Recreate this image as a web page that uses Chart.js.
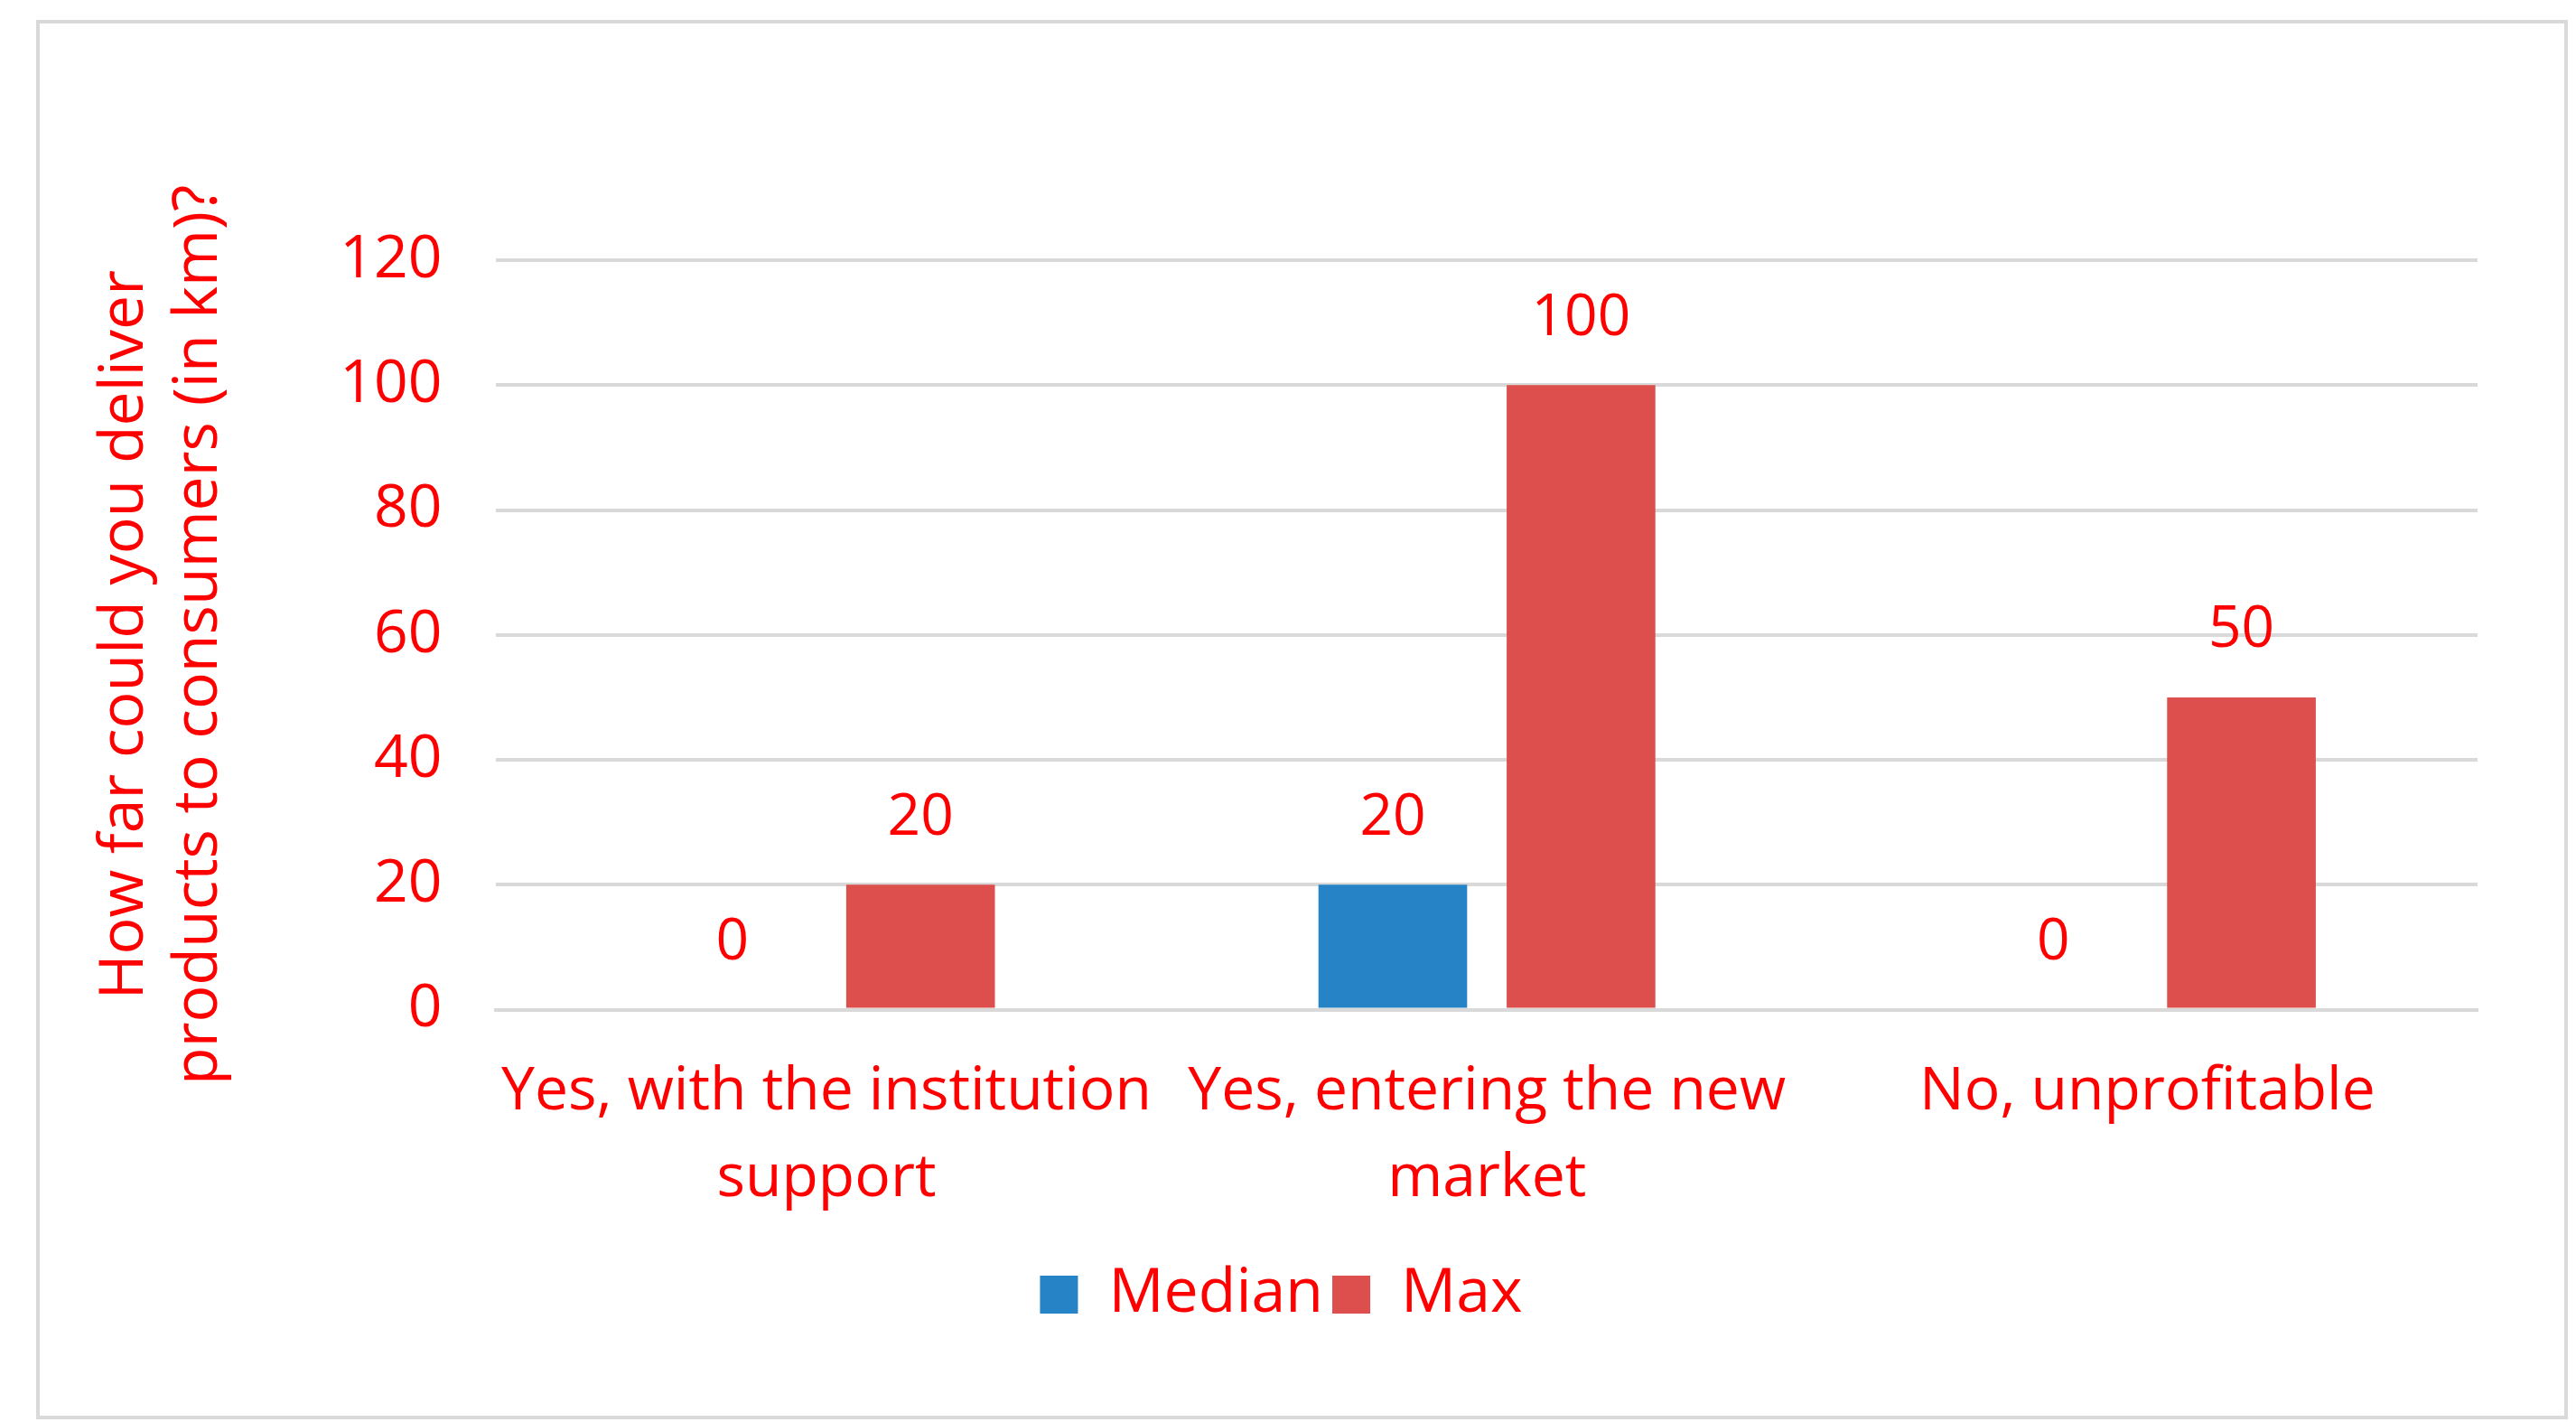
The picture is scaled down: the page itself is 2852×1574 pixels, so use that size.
<!DOCTYPE html>
<html><head><meta charset="utf-8">
<script src="https://cdn.jsdelivr.net/npm/chart.js@4/dist/chart.umd.min.js"></script>
<style>
body{margin:0;background:#fff;}
#box{position:absolute;left:40px;top:22px;width:2795px;height:1541px;border:4px solid #d9d9d9;}
canvas{display:block;}
</style></head><body>
<div id="box"><canvas id="chart" width="2795" height="1541"></canvas></div>
<script>
const categories = [["Yes, with the institution", "support"], ["Yes, entering the new", "market"], "No, unprofitable"];
const medianValues = [0, 20, 0];
const maxValues = [20, 100, 50];
const yTitle = ["How far could you deliver", "products to consumers (in km)?"];

const red = "#ff0000";
const font = "'Open Sans', 'Liberation Sans', sans-serif";

// draw value labels above each bar
const valueLabels = {
  id: "valueLabels",
  afterDatasetsDraw(c) {
    const ctx = c.ctx;
    ctx.save();
    ctx.fillStyle = red;
    ctx.font = "64px " + font;
    ctx.textAlign = "center";
    ctx.textBaseline = "bottom";
    c.data.datasets.forEach((ds, i) => {
      c.getDatasetMeta(i).data.forEach((bar, j) => {
        ctx.fillText(ds.data[j], bar.x, bar.y - 42);
      });
    });
    ctx.restore();
  }
};

new Chart(document.getElementById("chart"), {
  type: "bar",
  data: {
    labels: categories,
    datasets: [
      {label: "Median", data: medianValues, backgroundColor: "#2683c6"},
      {label: "Max", data: maxValues, backgroundColor: "#dd4f4d"}
    ]
  },
  options: {
    responsive: false,
    animation: false,
    categoryPercentage: 0.57,
    barPercentage: 0.79,
    layout: {padding: {left: 50, right: 96, top: 262, bottom: 90}},
    plugins: {
      legend: {
        position: "bottom",
        labels: {color: red, font: {size: 68, family: font}, boxWidth: 42, boxHeight: 42, padding: 10}
      },
      tooltip: {enabled: false}
    },
    scales: {
      x: {
        grid: {display: false},
        border: {color: "#d9d9d9", width: 4},
        ticks: {color: red, font: {size: 66, family: font, lineHeight: 1.45}, maxRotation: 0, padding: 36}
      },
      y: {
        min: 0, max: 120,
        ticks: {stepSize: 20, color: red, font: {size: 66, family: font}, padding: 60},
        grid: {color: "#d9d9d9", lineWidth: 4, drawTicks: false},
        border: {display: false},
        title: {display: true, text: yTitle, color: red, font: {size: 68, family: font}, padding: {bottom: 55}}
      }
    }
  },
  plugins: [valueLabels]
});
</script>
</body></html>
